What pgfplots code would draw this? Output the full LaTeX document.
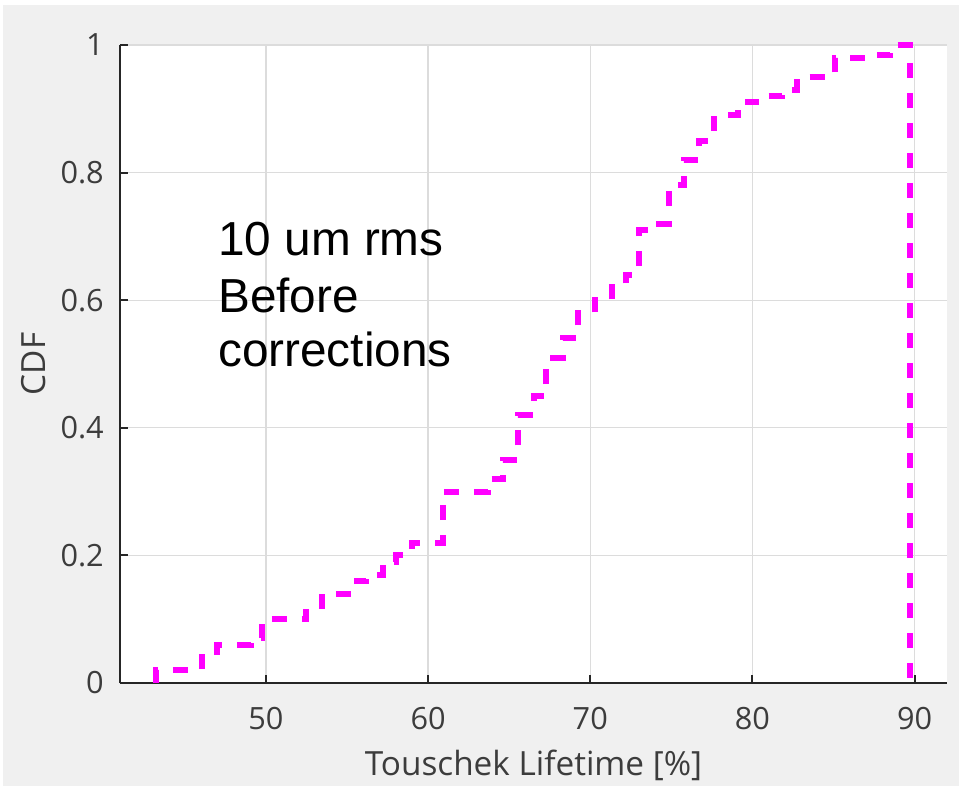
\documentclass[border=0pt]{standalone}
\usepackage{pgfplots}
\pgfplotsset{compat=1.18}
\usepackage{fontspec}
\setmainfont{Open Sans}
\newfontfamily\notefont{Liberation Sans}
\definecolor{figbg}{HTML}{F0F0F0}
\definecolor{axcol}{HTML}{262626}
\definecolor{txtcol}{HTML}{3C3C3C}
\definecolor{gridcol}{HTML}{DCDCDC}
\definecolor{cdfline}{RGB}{255,0,255}

% empirical CDF: jump position and level after the jump
\pgfplotstableread{
x      F
43.2   0
43.2   0.02
46.05  0.04
47.0   0.06
49.05  0.07
49.75  0.10
52.5   0.12
53.45  0.14
55.6   0.16
56.2   0.17
57.2   0.19
58.0   0.20
59.0   0.22
60.9   0.30
63.7   0.32
64.6   0.35
65.55  0.42
66.5   0.45
67.3   0.51
68.3   0.54
69.25  0.58
70.3   0.60
71.35  0.62
72.2   0.64
73.0   0.71
73.9   0.72
74.85  0.78
75.75  0.82
76.7   0.85
77.6   0.89
79.1   0.91
80.25  0.92
81.85  0.93
82.75  0.95
85.1   0.98
87.3   0.985
88.5   1.00
89.7   1.00
89.7   0
}\cdfdata

\begin{document}
\begin{tikzpicture}[x=1pt,y=1pt]
\fill[white] (0,0) rectangle (719.25,589.5);
\fill[figbg] (2.25,0) rectangle (719.25,585.75);
\useasboundingbox (0,0) rectangle (719.25,589.5);
\begin{axis}[
  at={(90pt,77.25pt)}, anchor=south west,
  scale only axis, width=620.25pt, height=478.5pt,
  xmin=41, xmax=92, ymin=0, ymax=1,
  xtick={50,60,70,80,90},
  ytick={0,0.2,0.4,0.6,0.8,1},
  axis background/.style={fill=white},
  axis x line*=bottom, axis y line*=left,
  axis line style={-, axcol, line width=1.5pt},
  tick align=inside,
  major tick length=6pt,
  tick style={axcol, line width=1.5pt},
  grid=major,
  major grid style={gridcol, line width=1pt},
  /pgf/number format/assume math mode=true,
  ticklabel style={font=\fontsize{23}{27}\selectfont, text=txtcol, inner sep=0pt},
  xticklabel style={anchor=north, yshift=-18pt},
  yticklabel style={anchor=east, xshift=-12pt},
  xlabel={Touschek Lifetime [\%]},
  ylabel={CDF},
  label style={font=\fontsize{25}{30}\selectfont, text=txtcol, inner sep=0pt},
  xlabel style={at={([yshift=-69pt]axis description cs:0.5,0)}, anchor=base},
  ylabel style={at={([xshift=-56.25pt]axis description cs:0,0.5)}, anchor=base, rotate=0},
  clip=false,
]
\addplot[const plot, color=cdfline, line width=4.5pt, line cap=butt,
  dash pattern=on 11.25pt off 11.25pt] table[x=x, y=F] {\cdfdata};
\node[anchor=base west, inner sep=0pt, font=\notefont\fontsize{35.8}{42}\selectfont]
  at (axis cs:47.04,0.6708) {10 um rms};
\node[anchor=base west, inner sep=0pt, font=\notefont\fontsize{35.8}{42}\selectfont]
  at (axis cs:47.04,0.5815) {Before};
\node[anchor=base west, inner sep=0pt, font=\notefont\fontsize{35.8}{42}\selectfont]
  at (axis cs:47.04,0.4953) {corrections};
\end{axis}
\end{tikzpicture}
\end{document}
